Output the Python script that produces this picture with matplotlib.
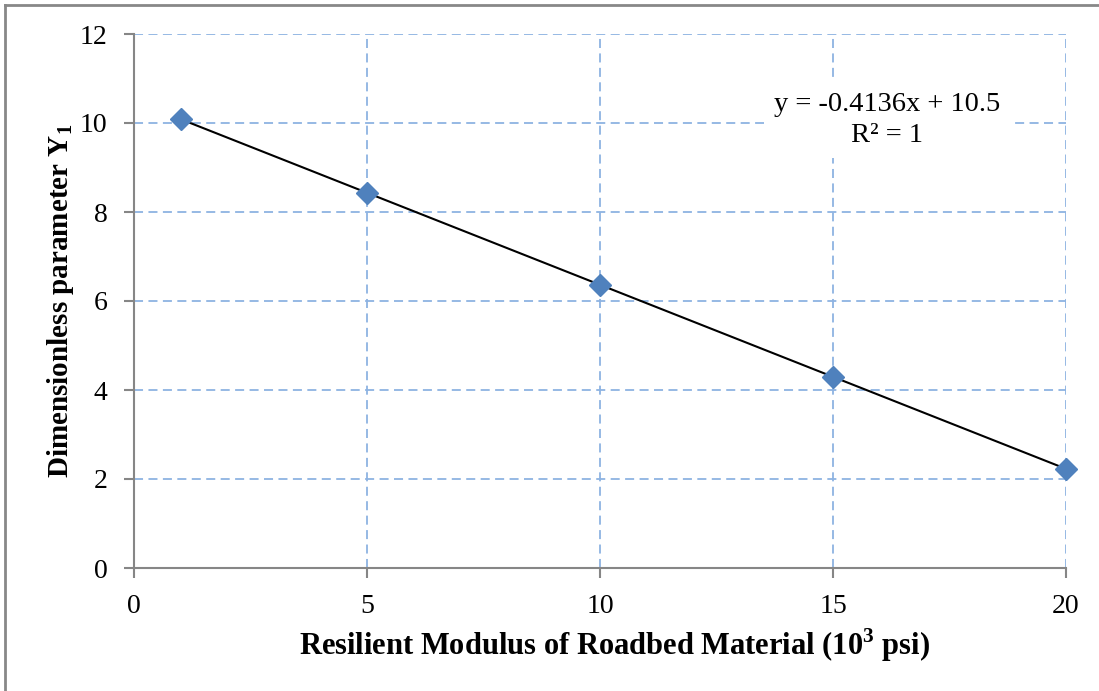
import numpy as np
import matplotlib.pyplot as plt
from matplotlib.lines import Line2D

plt.rcParams['font.family'] = 'Liberation Serif'
plt.rcParams['mathtext.fontset'] = 'custom'
plt.rcParams['mathtext.rm'] = 'Liberation Serif'
plt.rcParams['mathtext.bf'] = 'Liberation Serif:bold'

# resilient modulus (10^3 psi) vs dimensionless parameter Y1
modulus = [1, 5, 10, 15, 20]
y1 = [10.09, 8.43, 6.36, 4.29, 2.23]

# linear trendline
slope = -0.4136
intercept = 10.5
r2 = 1

xticks = [0, 5, 10, 15, 20]
yticks = [0, 2, 4, 6, 8, 10, 12]

W, H = 1099, 691
fig = plt.figure(figsize=(W / 100, H / 100), dpi=100)
ax = fig.add_axes([134 / W, 1 - 568 / H, (1066 - 134) / W, (568 - 34) / H])

grid_c = '#8db3e2'
axis_c = '#868686'

for v in xticks[1:]:
    ax.axvline(v, color=grid_c, lw=1.3, ls=(0, (5, 3)), zorder=1)
for v in yticks[1:]:
    ax.axhline(v, color=grid_c, lw=1.3, ls=(0, (5, 3)), zorder=1)

xs = np.array([modulus[0], modulus[-1]])
ax.plot(xs, slope * xs + intercept, color='black', lw=1.5, zorder=3)
ax.plot(modulus, y1, ls='none', marker='D', ms=11, color='#4f81bd',
        mec='#4f81bd', zorder=4, clip_on=False)

ax.set_xlim(0, 20)
ax.set_ylim(0, 12)
ax.set_xticks(xticks)
ax.set_yticks(yticks)
ax.tick_params(labelsize=20, length=7, width=1.5, color=axis_c, pad=12,
               labelcolor='black')

for side in ('top', 'right'):
    ax.spines[side].set_visible(False)
for side in ('left', 'bottom'):
    ax.spines[side].set_color(axis_c)
    ax.spines[side].set_linewidth(1.5)

ax.set_xlabel('Resilient Modulus of Roadbed Material (10$^\\mathbf{3}$ psi)',
              fontsize=22, fontweight='bold')
ax.xaxis.set_label_coords((615 - 134) / 932, -(626 - 568) / 534)
ax.set_ylabel('Dimensionless parameter $\\mathbf{Y_1}$',
              fontsize=21, fontweight='bold')
ax.yaxis.set_label_coords(-(134 - 76) / 932, 0.5)

fig.text(887 / W, 1 - 120 / H,
         f'y = {slope}x + {intercept}\nR\u00b2 = {r2}', fontsize=20.5,
         ha='center', va='center', linespacing=1.3,
         bbox=dict(facecolor='white', edgecolor='none', pad=7), zorder=5)

# outer frame
fx, fy = 4.5 / W, 1 - 4.5 / H
fig.add_artist(Line2D([fx, fx], [0, fy], color='#888888', lw=2))
fig.add_artist(Line2D([fx, 1], [fy, fy], color='#888888', lw=2))

fig.savefig('out.png', dpi=100)
